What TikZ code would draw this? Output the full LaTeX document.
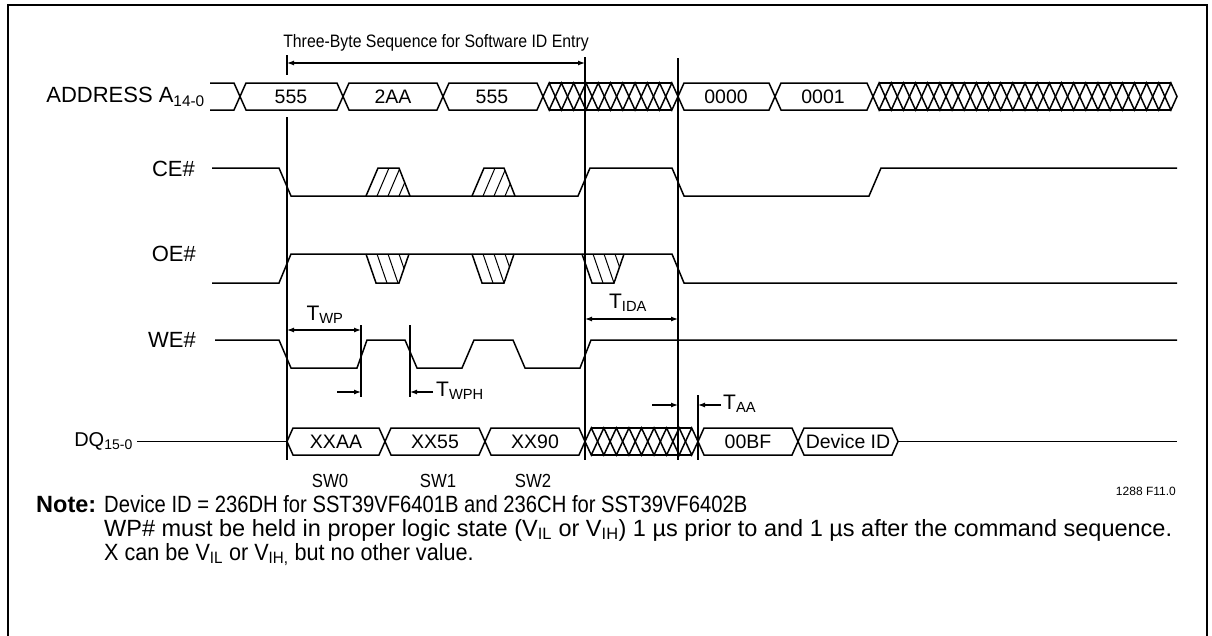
\documentclass[tikz,border=0pt]{standalone}
\usepackage{fontspec}
\setmainfont{Liberation Sans}
\newfontfamily\condfont[FakeStretch=0.88]{Liberation Sans}
\newfontfamily\notea[FakeStretch=0.86]{Liberation Sans}
\newfontfamily\notec[FakeStretch=0.92]{Liberation Sans}
\usetikzlibrary{arrows.meta}
\newcommand\BusSeg[3]{%
  \draw[sig] (#1,#3) -- ({#1+6},{#3-13.5}) -- ({#2-6},{#3-13.5}) -- (#2,#3)
    -- ({#2-6},{#3+13.5}) -- ({#1+6},{#3+13.5}) -- cycle;}
\newcommand\BusHatch[4]{%
  \pgfmathsetmacro\hP{(#2-#1)/#4}%
  \foreach \k in {1,...,#4} {%
    \draw[sig] ({#1+(\k-1)*\hP},#3) -- ({#1+(\k-0.5)*\hP},{#3-13.5})
      -- ({#1+\k*\hP},#3) -- ({#1+(\k-0.5)*\hP},{#3+13.5}) -- cycle;}
  \draw[sig] ({#1+0.5*\hP},{#3-13.5}) -- ({#2-0.5*\hP},{#3-13.5});
  \draw[sig] ({#1+0.5*\hP},{#3+13.5}) -- ({#2-0.5*\hP},{#3+13.5});}
% up pulse: x bottom-left, x bottom-right, y high, y low
\newcommand\HatchUp[4]{%
  \draw[sig] (#1,#4) -- ({#1+12},#3) -- ({#2-11},#3) -- (#2,#4);
  \begin{scope}
    \clip (#1,#4) -- ({#1+12},#3) -- ({#2-11},#3) -- (#2,#4) -- cycle;
    \foreach \o in {11,22,33} \draw[hatchln] ({#1+\o},#4) -- ({#1+\o+12},#3);
  \end{scope}}
% down pulse: x top-left, x top-right, y high, y low
\newcommand\HatchDown[4]{%
  \draw[sig] (#1,#3) -- ({#1+10},#4) -- ({#2-10},#4) -- (#2,#3);
  \begin{scope}
    \clip (#1,#3) -- ({#1+10},#4) -- ({#2-10},#4) -- (#2,#3) -- cycle;
    \foreach \o in {11,22,33} \draw[hatchln] ({#1+\o},#3) -- ({#1+\o+10},#4);
  \end{scope}}
\begin{document}
\begin{tikzpicture}[x=1pt,y=-1pt,
  sig/.style={line width=1.5pt, line join=miter},
  hatchln/.style={line width=1pt},
  vline/.style={line width=1.3pt},
  frame/.style={line width=2pt},
  dimr/.style={line width=1.2pt, -{Latex[length=7pt,width=5pt]}},
  dimb/.style={line width=1.2pt, {Latex[length=7pt,width=5pt]}-{Latex[length=7pt,width=5pt]}},
  sigl/.style={font=\fontsize{22}{25}\selectfont, inner sep=0pt, anchor=east},
  busl/.style={font=\fontsize{19.5}{22}\selectfont, inner sep=0pt},
  swl/.style={font=\condfont\fontsize{19}{22}\selectfont, inner sep=0pt},
  tml/.style={font=\fontsize{21}{24}\selectfont, inner sep=0pt},
  notel/.style={font=\fontsize{23.5}{26}\selectfont, inner sep=0pt, anchor=base west}]
\useasboundingbox (0,0) rectangle (1212,635);
% frame
\draw[frame] (8,636) -- (8,5) -- (1207,5) -- (1207,636);

% title and its arrow
\node[font=\condfont\fontsize{18}{21}\selectfont, inner sep=0pt] (title) at (436,43) {Three-Byte Sequence for Software ID Entry};
\draw[vline] (287,55) -- (287,75);
\draw[dimb] (287,63) -- (585,63);

% long vertical lines
\draw[vline] (287,117) -- (287,460);
\draw[vline] (585,57) -- (585,460);
\draw[vline] (678,58) -- (678,460);

% signal labels
\node[sigl] (la) at (205,97) {ADDRESS A\textsubscript{14-0}};
\node[sigl] (lce) at (195,169) {CE\#};
\node[sigl] (loe) at (196,254) {OE\#};
\node[sigl] (lwe) at (196,340) {WE\#};
\node[sigl, font=\fontsize{20}{23}\selectfont] (ldq) at (133,441) {DQ\textsubscript{15-0}};

% ADDRESS bus
\draw[sig] (210,83) -- (234,83) -- (240,96.5) -- (234,110) -- (210,110);
\BusSeg{240}{343}{96.5}
\BusSeg{343}{443}{96.5}
\BusSeg{443}{543}{96.5}
\BusHatch{543}{678}{96.5}{11}
\BusSeg{678}{775}{96.5}
\BusSeg{775}{873}{96.5}
\BusHatch{873}{1177}{96.5}{25}
\node[busl] (a1) at (291,97) {555};
\node[busl] (a2) at (393,97) {2AA};
\node[busl] (a3) at (492,97) {555};
\node[busl] (a4) at (726,97) {0000};
\node[busl] (a5) at (823,97) {0001};

% CE#
\draw[sig] (212,168) -- (279,168) -- (291,196) -- (578,196) -- (590,168)
  -- (672,168) -- (684,196) -- (869,196) -- (881,168) -- (1177,168);
\HatchUp{366}{410}{168}{196}
\HatchUp{472}{515}{168}{196}

% OE#
\draw[sig] (212,283) -- (279,283) -- (291,254) -- (672,254) -- (684,283) -- (1177,283);
\HatchDown{366}{409}{254}{283}
\HatchDown{472}{514}{254}{283}
\HatchDown{582}{624}{254}{283}

% WE#
\draw[sig] (215,340) -- (279,340) -- (291,368) -- (357,368) -- (367,340)
  -- (405,340) -- (417,368) -- (462,368) -- (474,340) -- (513,340)
  -- (525,368) -- (580,368) -- (591,340) -- (1177,340);

% timing marks
\draw[vline] (361,325) -- (361,397);
\draw[vline] (410,325) -- (410,397);
\draw[vline] (698,395) -- (698,460);
\draw[dimb] (287,330) -- (361,330);
\node[tml] (twp) at (325,315) {T\textsubscript{WP}};
\draw[dimr] (337,392) -- (361,392);
\draw[dimr] (433,392) -- (410,392);
\node[tml, anchor=west] (twph) at (436,391) {T\textsubscript{WPH}};
\draw[dimb] (585,319) -- (678,319);
\node[tml] (tida) at (628,303) {T\textsubscript{IDA}};
\draw[dimr] (652,405) -- (678,405);
\draw[dimr] (721,405) -- (698,405);
\node[tml, anchor=west] (taa) at (723,404) {T\textsubscript{AA}};

% DQ bus
\draw[sig] (137,441.5) -- (287,441.5);
\BusSeg{287}{385}{441.5}
\BusSeg{385}{485}{441.5}
\BusSeg{485}{585}{441.5}
\BusHatch{585}{698}{441.5}{9}
\BusSeg{698}{798}{441.5}
\BusSeg{798}{898}{441.5}
\draw[sig] (898,441.5) -- (1177,441.5);
\node[busl] (d1) at (336,442) {XXAA};
\node[busl] (d2) at (435,442) {XX55};
\node[busl] (d3) at (535,442) {XX90};
\node[busl] (d4) at (748,442) {00BF};
\node[busl] (d5) at (848,442) {Device ID};

\node[swl] (sw0) at (330,481) {SW0};
\node[swl] (sw1) at (438,481) {SW1};
\node[swl] (sw2) at (533,481) {SW2};
\node[font=\fontsize{12}{14}\selectfont, inner sep=0pt, anchor=east] (fig) at (1176,491) {1288 F11.0};

% notes
\node[notel] (n0) at (36,512) {\textbf{Note:}};
\node[notel, font=\notea\fontsize{23.5}{26}\selectfont] (n1) at (104,512) {Device ID = 236DH for SST39VF6401B and 236CH for SST39VF6402B};
\node[notel] (n2) at (104,536) {WP\# must be held in proper logic state (V\textsubscript{IL} or V\textsubscript{IH}) 1 µs prior to and 1 µs after the command sequence.};
\node[notel, font=\notec\fontsize{23.5}{26}\selectfont] (n3) at (104,560) {X can be V\textsubscript{IL} or V\textsubscript{IH,} but no other value.};
\end{tikzpicture}
\end{document}
